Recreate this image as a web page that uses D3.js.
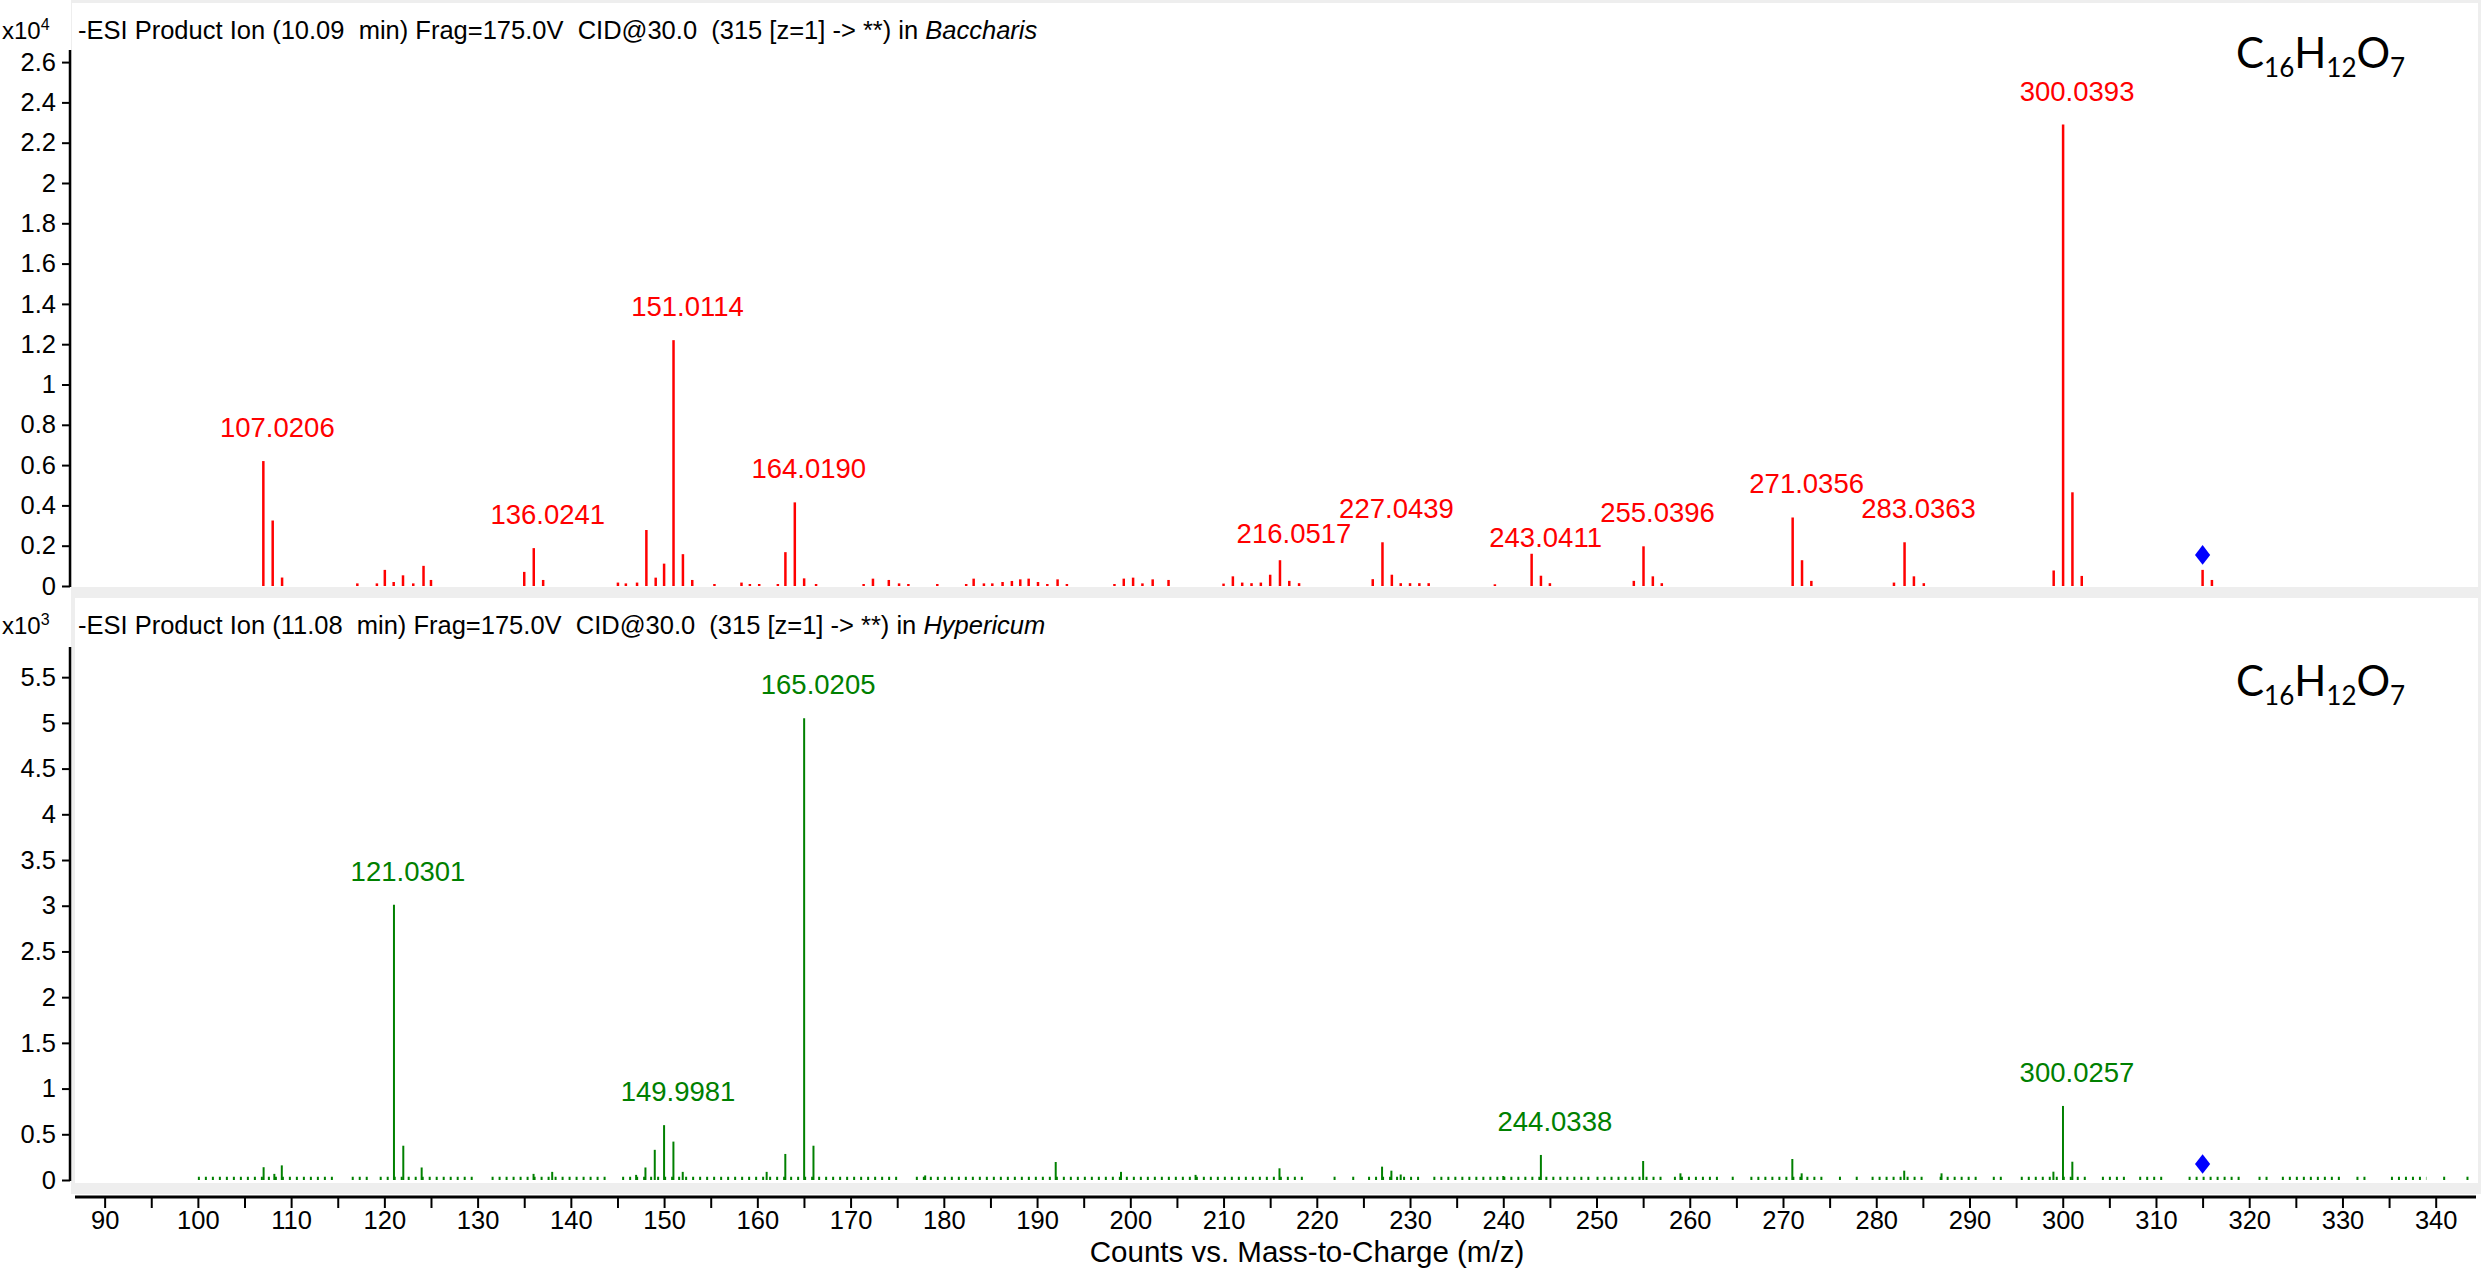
<!DOCTYPE html>
<html>
<head>
<meta charset="utf-8">
<title>Product ion spectra</title>
<script src="https://cdn.jsdelivr.net/npm/d3@7"></script>
<style>
	html, body { margin: 0; padding: 0; background: #fff; }
	svg { display: block; font-family: 'Liberation Sans', Arial, sans-serif; }
</style>
</head>
<body>
<svg id="chart" width="2481" height="1270"></svg>
<script>
'use strict';

/* m/z axis */
var xDomain = [86.5, 344];
var xTickValues = [90, 95, 100, 105, 110, 115, 120, 125, 130, 135, 140, 145, 150, 155, 160, 165,
	170, 175, 180, 185, 190, 195, 200, 205, 210, 215, 220, 225, 230, 235, 240, 245, 250, 255,
	260, 265, 270, 275, 280, 285, 290, 295, 300, 305, 310, 315, 320, 325, 330, 335, 340];
var precursorMz = 315;

/* Baccharis (top) */
var baccharisMz = [107.0206, 108.024, 109.03, 117.1, 119.2, 120.05, 121.0, 122.0, 123.1, 124.2, 125.0,
	135.0, 136.0241, 137.03, 145.05, 145.9, 147.1, 148.1, 149.1, 150.0, 151.0114, 152.02, 153.02,
	155.4, 158.3, 159.2, 160.2, 162.2, 163.01, 164.019, 165.02, 166.3, 171.4, 172.4, 174.1, 175.2,
	176.2, 179.3, 182.4, 183.2, 184.3, 185.2, 186.3, 187.3, 188.2, 189.1, 190.1, 191.1, 192.2, 193.2,
	198.3, 199.3, 200.3, 201.3, 202.4, 204.1, 210.0, 211.0, 212.0, 213.0, 214.0, 215.0, 216.0517,
	217.05, 218.1, 226.0, 227.0439, 228.05, 229.0, 230.0, 231.0, 232.0, 239.1, 243.0411, 244.04,
	245.0, 254.0, 255.0396, 256.04, 257.0, 271.0356, 272.04, 273.04, 281.9, 283.0363, 284.04,
	285.1, 299.03, 300.0393, 301.04, 302.04, 315.0, 316.0];
var baccharisCounts = [6200, 3250, 420, 130, 130, 800, 200, 530, 130, 1000, 300,
	700, 1880, 300, 170, 130, 170, 2780, 415, 1110, 12200, 1580, 300,
	100, 170, 100, 100, 100, 1680, 4150, 380, 100, 100, 365, 300, 130,
	100, 100, 100, 365, 130, 130, 200, 250, 330, 365, 200, 100, 330, 100,
	100, 365, 415, 130, 330, 300, 120, 480, 170, 140, 170, 560, 1280,
	255, 140, 340, 2170, 560, 140, 140, 140, 140, 85, 1600, 510,
	140, 255, 1970, 480, 140, 3400, 1280, 255, 170, 2170, 480,
	140, 770, 22900, 4650, 500, 800, 300];
var baccharisLabelled = [107.0206, 136.0241, 151.0114, 164.019, 216.0517, 227.0439, 243.0411,
	255.0396, 271.0356, 283.0363, 300.0393];
var baccharisTicks = [0, 2000, 4000, 6000, 8000, 10000, 12000, 14000, 16000, 18000, 20000,
	22000, 24000, 26000];
var baccharisPrecursor = 1540;

/* Hypericum (bottom) */
var hypericumMz = [107.05, 108.2, 109.0, 121.0301, 122.03, 124.0, 136.0, 138.0, 147.0, 148.0, 149.0,
	149.9981, 151.0, 152.0, 161.0, 163.0, 165.0205, 166.02, 178.0, 192.0, 199.0, 207.0, 216.0,
	227.0, 228.0, 229.0, 240.0, 244.0338, 255.0, 259.0, 271.0, 272.0, 283.0, 287.0, 299.0,
	300.0257, 301.03];
var hypericumCounts = [140, 67, 160, 3010, 375, 137, 67, 89, 56, 137, 330,
	600, 420, 89, 89, 285, 5050, 375, 50, 197, 89, 56, 128,
	146, 102, 60, 44, 274, 208, 73, 230, 73, 102, 73, 91,
	810, 200];
var hypericumLabelled = [121.0301, 149.9981, 165.0205, 244.0338, 300.0257];
var hypericumTicks = [0, 500, 1000, 1500, 2000, 2500, 3000, 3500, 4000, 4500, 5000, 5500];
var hypericumNoise = [[100, 115], [116.5, 118.5], [119.5, 130], [131.5, 144], [145.5, 175.5],
	[177, 219], [221.8, 222.3], [223.8, 224.3], [225.5, 231], [232.5, 249.5], [250, 257.5],
	[258.3, 263.2], [264.5, 265.2], [266.5, 274.5], [276, 276.6], [277.8, 278.3], [279.5, 285.5],
	[286.8, 291], [292.5, 294], [295.5, 303], [304.2, 306.8], [308.2, 311], [313.5, 319.5],
	[321, 322], [323.5, 330], [331.5, 332.5], [335.2, 339], [340.8, 341.3], [343.3, 344]];
var hypericumNoiseLevel = 36;
var hypericumPrecursor = 175;

var svg = d3.select('#chart');
var x = d3.scaleLinear().domain(xDomain).range([72, 2473]);

/**
 * Diamond marker used for the precursor ion.
 */
var diamond = {
	draw: function(ctx, size) {
		var w = Math.sqrt(size) * 0.4, h = Math.sqrt(size) * 0.52;
		ctx.moveTo(0, -h);
		ctx.lineTo(w, 0);
		ctx.lineTo(0, h);
		ctx.lineTo(-w, 0);
		ctx.closePath();
	}
};

// grey frame behind both panels
svg.append('rect')
	.attr('x', 71).attr('y', 0)
	.attr('width', 2481 - 71).attr('height', 1194)
	.attr('fill', '#eeeeee');

/**
 * Draw one spectrum panel.
 * @param {Object} p panel settings
 */
function drawPanel(p) {
	var y = d3.scaleLinear().domain([0, p.yMax]).range([p.baseline, p.axisTop]);
	var g = svg.append('g');

	g.append('rect')
		.attr('x', p.frameLeft).attr('y', p.frameTop)
		.attr('width', 2478 - p.frameLeft).attr('height', p.frameBottom - p.frameTop)
		.attr('fill', '#fff');

	// y axis
	var axis = d3.axisLeft(y)
		.tickValues(p.ticks)
		.tickSize(8)
		.tickPadding(6)
		.tickFormat(function(d) { return d3.format('~g')(d / p.unit); });
	var ga = g.append('g')
		.attr('transform', 'translate(70,0)')
		.call(axis);
	ga.select('.domain').remove();
	ga.append('line')
		.attr('y1', p.axisTop).attr('y2', p.baseline + 1)
		.attr('stroke', '#000').attr('stroke-width', 2.5);
	ga.selectAll('.tick line').attr('stroke', '#000').attr('stroke-width', 2);
	ga.selectAll('.tick text')
		.attr('font-size', 25.5)
		.attr('font-family', "'Liberation Sans', Arial, sans-serif")
		.attr('fill', '#000');

	// exponent
	var ex = g.append('text')
		.attr('x', 2).attr('y', p.frameTop + 36)
		.attr('font-size', 24).attr('fill', '#000');
	ex.append('tspan').text('x10');
	ex.append('tspan').attr('dy', -9).attr('font-size', 16).text(p.exponent);

	// title
	var t = g.append('text')
		.attr('x', 78).attr('y', p.frameTop + 36)
		.attr('font-size', 25.5).attr('fill', '#000')
		.style('white-space', 'pre');
	t.append('tspan').text(p.title);
	t.append('tspan').attr('font-style', 'italic').text(p.species);

	// formula
	var f = g.append('text')
		.attr('x', 2236).attr('y', p.formulaY)
		.attr('font-family', "Lato, 'Noto Sans', sans-serif")
		.attr('fill', '#000');
	[['C', 0], ['16', 1], ['H', 0], ['12', 1], ['O', 0], ['7', 1]].forEach(function(part, i) {
		f.append('tspan')
			.attr('font-size', part[1] ? 26 : 42)
			.attr('dy', i === 0 ? 0 : (part[1] ? 9 : -9))
			.text(part[0]);
	});

	// baseline noise
	if (p.noise) {
		g.append('g').selectAll('line')
			.data(p.noise)
			.join('line')
			.attr('x1', function(d) { return x(d[0]); })
			.attr('x2', function(d) { return x(d[1]); })
			.attr('y1', (y(0) + y(p.noiseLevel)) / 2)
			.attr('y2', (y(0) + y(p.noiseLevel)) / 2)
			.attr('stroke', p.colour)
			.attr('stroke-width', y(0) - y(p.noiseLevel))
			.attr('stroke-dasharray', '2,5');
	}

	// sticks
	g.append('g').selectAll('line')
		.data(d3.zip(p.mz, p.counts))
		.join('line')
		.attr('x1', function(d) { return x(d[0]); })
		.attr('x2', function(d) { return x(d[0]); })
		.attr('y1', y(0))
		.attr('y2', function(d) { return y(d[1]); })
		.attr('stroke', p.colour)
		.attr('stroke-width', p.stickWidth);

	// precursor
	g.append('path')
		.attr('transform', 'translate(' + x(precursorMz) + ',' + y(p.precursor) + ')')
		.attr('d', d3.symbol().type(diamond).size(360)())
		.attr('fill', '#0000ff');

	// peak labels: biggest peaks first, a clashing label goes below
	// the other one if it still clears its own peak, otherwise above
	var labelData = p.labelled.map(function(mz) {
		var i = p.mz.indexOf(mz);
		var top = y(p.counts[i]);
		return { text: d3.format('.4f')(mz), x: x(mz) + 14, top: top, y: top - 24, c: p.counts[i] };
	});
	var texts = g.append('g').selectAll('text')
		.data(labelData)
		.join('text')
		.attr('text-anchor', 'middle')
		.attr('font-size', 27.5)
		.attr('fill', p.colour)
		.text(function(d) { return d.text; });
	texts.each(function(d) { d.w = this.getComputedTextLength(); });
	var placed = [];
	labelData.slice().sort(function(a, b) { return b.c - a.c; }).forEach(function(d) {
		for (var k = 0; k < 10; k++) {
			var hit = placed.filter(function(o) {
				return Math.abs(o.x - d.x) < (o.w + d.w) / 2 + 4 && Math.abs(o.y - d.y) < 24;
			})[0];
			if (!hit) break;
			d.y = hit.y + 25 <= d.top - 4 ? hit.y + 25 : hit.y - 25;
		}
		placed.push(d);
	});
	texts.attr('x', function(d) { return d.x; })
		.attr('y', function(d) { return d.y; });
}

drawPanel({
	frameLeft: 72, frameTop: 3, frameBottom: 587,
	axisTop: 50, baseline: 586, yMax: 26600,
	ticks: baccharisTicks, unit: 10000, exponent: '4',
	title: '-ESI Product Ion (10.09  min) Frag=175.0V  CID@30.0  (315 [z=1] -> **) in ',
	species: 'Baccharis',
	formulaY: 68,
	mz: baccharisMz, counts: baccharisCounts, labelled: baccharisLabelled,
	precursor: baccharisPrecursor,
	colour: '#ff0000', stickWidth: 2.5
});

drawPanel({
	frameLeft: 75, frameTop: 598, frameBottom: 1183,
	axisTop: 647, baseline: 1180, yMax: 5830,
	ticks: hypericumTicks, unit: 1000, exponent: '3',
	title: '-ESI Product Ion (11.08  min) Frag=175.0V  CID@30.0  (315 [z=1] -> **) in ',
	species: 'Hypericum',
	formulaY: 696,
	mz: hypericumMz, counts: hypericumCounts, labelled: hypericumLabelled,
	noise: hypericumNoise, noiseLevel: hypericumNoiseLevel,
	precursor: hypericumPrecursor,
	colour: '#008000', stickWidth: 2
});

// m/z axis
var xAxis = d3.axisBottom(x)
	.tickValues(xTickValues)
	.tickSize(11)
	.tickPadding(3)
	.tickFormat(function(d) { return d % 10 === 0 ? d : ''; });
var gx = svg.append('g')
	.attr('transform', 'translate(0,1197)')
	.call(xAxis);
gx.select('.domain').remove();
gx.append('line')
	.attr('x1', 75).attr('x2', 2476)
	.attr('stroke', '#000').attr('stroke-width', 3);
gx.selectAll('.tick line').attr('stroke', '#000').attr('stroke-width', 2);
gx.selectAll('.tick text')
	.attr('font-size', 25.5)
	.attr('font-family', "'Liberation Sans', Arial, sans-serif")
	.attr('fill', '#000');

svg.append('text')
	.attr('x', 1307).attr('y', 1262)
	.attr('text-anchor', 'middle')
	.attr('font-size', 29.5)
	.attr('fill', '#000')
	.text('Counts vs. Mass-to-Charge (m/z)');
</script>
</body>
</html>
